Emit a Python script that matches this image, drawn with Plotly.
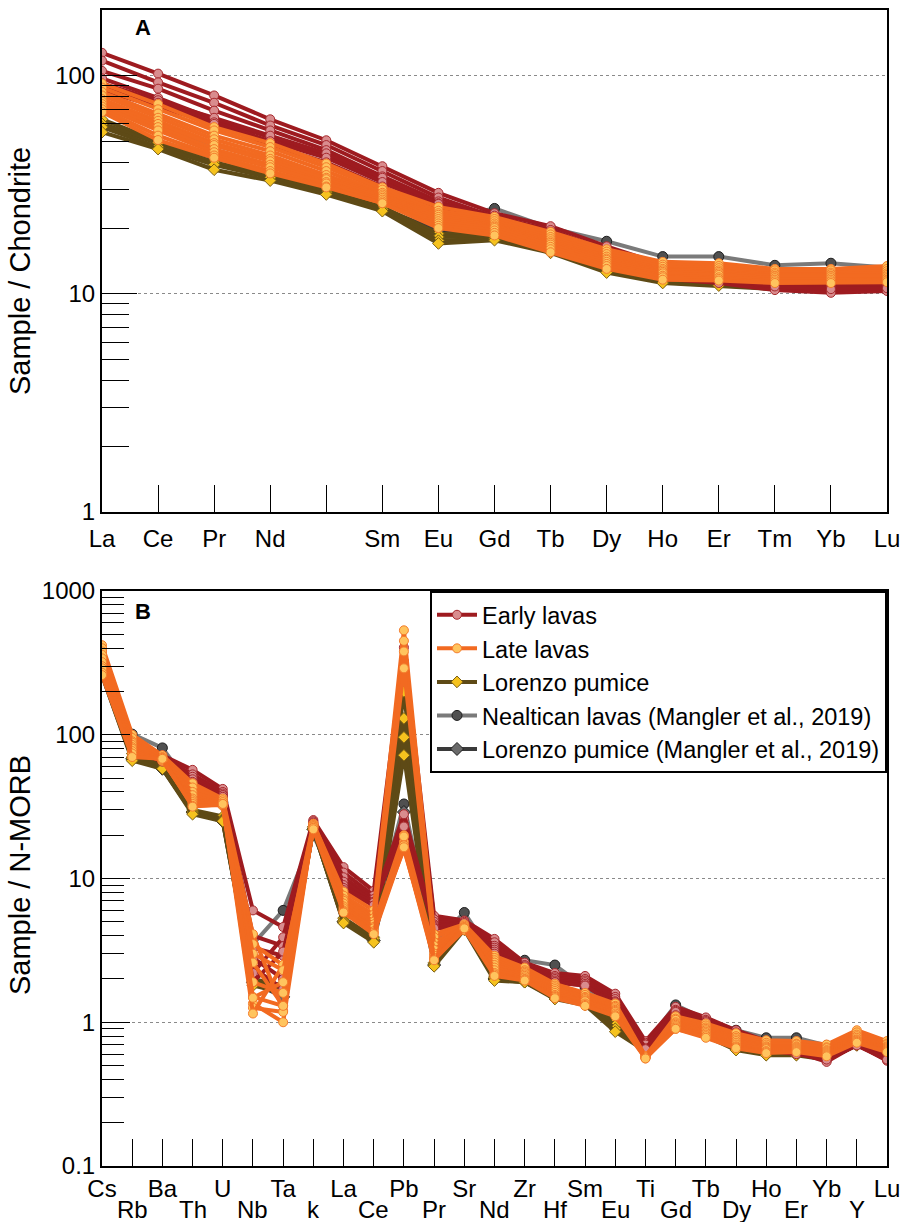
import plotly.graph_objects as go

# ---------------- DATA ----------------
REE_LABELS = ["La", "Ce", "Pr", "Nd", "", "Sm", "Eu", "Gd", "Tb", "Dy", "Ho", "Er", "Tm", "Yb", "Lu"]
SPIDER_LABELS = ["Cs", "Rb", "Ba", "Th", "U", "Nb", "Ta", "k", "La", "Ce", "Pb", "Pr", "Sr", "Nd",
                 "Zr", "Hf", "Sm", "Eu", "Ti", "Gd", "Tb", "Dy", "Ho", "Er", "Yb", "Y", "Lu"]

GROUP_NAMES = ["Early lavas", "Late lavas", "Lorenzo pumice",
               "Nealtican lavas (Mangler et al., 2019)", "Lorenzo pumice (Mangler et al., 2019)"]

# Panel A: Sample / Chondrite
EARLY_REE = [
    [127, 102, 81, 63, 50.5, 38.4, 29.0, 23.4, 20.4, 16.5, 13.6, 12.8, 11.8, 11.5, 11.6],
    [117, 93, 75, 59, 48.0, 36.5, 27.6, 22.5, 19.6, 15.8, 13.0, 12.3, 11.2, 11.0, 11.0],
    [105, 87, 69, 56, 45.5, 34.5, 26.5, 22.0, 18.8, 15.2, 12.5, 11.8, 10.9, 10.6, 10.6],
    [97, 79, 63, 52, 43.0, 33.0, 26.0, 21.5, 18.2, 14.6, 12.0, 11.4, 10.6, 10.3, 10.4],
    [92, 77, 64, 53, 44.0, 34.0, 25.8, 22.8, 19.2, 15.5, 12.8, 12.2, 11.4, 11.2, 11.3],
    [88, 75, 61, 50, 42.0, 32.5, 25.0, 21.0, 17.6, 14.2, 11.7, 11.2, 10.4, 10.1, 10.3],
    [85, 72, 60, 48, 40.0, 31.0, 24.0, 20.8, 17.8, 14.5, 12.2, 11.6, 10.8, 10.5, 10.6],
]
LATE_REE = [
    [92, 74, 58, 49, 39.5, 30.7, 25.0, 22.5, 19.2, 16.0, 14.0, 13.8, 13.0, 13.0, 13.4],
    [88, 70, 56, 47, 38.0, 30.0, 24.0, 22.0, 18.7, 15.6, 13.6, 13.4, 12.8, 12.8, 13.0],
    [84, 67, 53, 45, 36.5, 29.0, 23.4, 21.5, 18.2, 15.2, 13.3, 13.1, 12.5, 12.5, 12.7],
    [81, 64, 51, 43, 35.0, 28.5, 23.0, 21.0, 17.8, 14.8, 13.0, 12.8, 12.3, 12.3, 12.4],
    [78, 62, 49, 41.5, 34.0, 28.0, 22.5, 20.6, 17.4, 14.5, 12.8, 12.6, 12.1, 12.1, 12.2],
    [76, 60, 48, 40.5, 33.5, 27.5, 22.0, 20.3, 17.1, 14.3, 12.6, 12.4, 12.0, 12.0, 12.0],
    [74, 58, 46, 39, 32.5, 27.0, 21.5, 20.0, 16.8, 14.0, 12.4, 12.2, 11.8, 11.8, 11.8],
    [72, 56, 44.5, 38, 32.0, 26.5, 21.0, 19.5, 16.4, 13.7, 12.1, 11.9, 11.6, 11.6, 11.6],
    [70, 53, 43, 36.5, 31.0, 26.0, 20.5, 19.0, 16.0, 13.4, 11.9, 11.7, 11.4, 11.4, 11.5],
    [68, 50.6, 42, 35.6, 30.7, 26.0, 20.0, 18.5, 15.5, 13.0, 11.6, 11.5, 11.2, 11.2, 11.3],
]
PUMICE_REE = [
    [63, 50, 42, 36, 30.0, 25.0, 18.8, 18.8, 16.2, 13.2, 11.6, 11.3, 10.9, 10.9, 11.1],
    [60, 49, 40, 35, 29.5, 24.8, 18.2, 18.3, 15.9, 12.9, 11.4, 11.1, 10.7, 10.7, 10.9],
    [58, 47, 39, 34, 29.0, 24.3, 17.5, 17.9, 15.6, 12.7, 11.3, 11.0, 10.6, 10.5, 10.7],
    [55, 46, 37, 33, 28.5, 23.9, 17.0, 17.6, 15.4, 12.5, 11.2, 10.9, 10.5, 10.4, 10.6],
]
NEALTICAN_REE = [
    [71, 59, 48, 41, 34.5, 28.5, 21.5, 24.6, 20.0, 17.4, 14.8, 14.8, 13.5, 13.8, 13.2],
]
MANGLER_PUMICE_REE = [
    [60, 49, 40, 34.5, 29.0, 24.5, 19.5, 19.0, 16.0, 13.0, 11.5, 11.3, 10.9, 10.9, 11.0],
]

# Panel B: Sample / N-MORB
EARLY_SPIDER = [
    [380, 92, 72, 57, 42, 6.0, 4.6, 25.5, 12.0, 8.2, 405, 5.5, 5.1, 3.8, 2.6, 2.2, 2.1, 1.58, 0.74, 1.28, 1.08, 0.88, 0.74, 0.70, 0.62, 0.78, 0.62],
    [350, 88, 70, 53, 40, 4.0, 3.4, 25.0, 11.0, 7.6, 326, 5.2, 5.0, 3.6, 2.5, 2.1, 2.0, 1.50, 0.72, 1.22, 1.04, 0.85, 0.72, 0.68, 0.60, 0.76, 0.60],
    [320, 85, 68, 51, 39, 3.3, 2.9, 24.5, 10.2, 7.2, 26, 5.0, 4.8, 3.4, 2.45, 2.05, 1.95, 1.45, 0.70, 1.20, 1.02, 0.82, 0.70, 0.66, 0.58, 0.74, 0.58],
    [300, 82, 67, 49, 38, 2.8, 2.0, 24.0, 9.5, 6.9, 24, 4.8, 4.7, 3.3, 2.4, 2.0, 1.9, 1.40, 0.68, 1.15, 0.98, 0.80, 0.68, 0.64, 0.56, 0.72, 0.57],
    [280, 80, 66, 47, 37, 2.4, 1.7, 23.5, 9.0, 6.6, 22, 4.7, 4.6, 3.2, 2.35, 1.95, 1.85, 1.38, 0.70, 1.18, 1.00, 0.78, 0.66, 0.62, 0.54, 0.70, 0.55],
    [330, 84, 69, 46, 38, 2.2, 3.9, 24.0, 8.6, 6.8, 28, 4.6, 4.9, 3.1, 2.3, 1.9, 1.8, 1.35, 0.66, 1.12, 0.96, 0.76, 0.65, 0.62, 0.53, 0.70, 0.54],
    [300, 78, 65, 45, 37, 1.9, 3.1, 23.0, 8.3, 6.5, 23, 4.5, 4.5, 3.0, 2.3, 1.9, 1.8, 1.33, 0.65, 1.10, 0.95, 0.75, 0.64, 0.60, 0.55, 0.69, 0.55],
]
LATE_SPIDER = [
    [420, 100, 72, 46, 36, 4.1, 1.2, 24.0, 8.1, 6.0, 533, 4.1, 4.8, 2.9, 2.4, 1.85, 1.6, 1.35, 0.58, 1.10, 0.98, 0.84, 0.75, 0.74, 0.70, 0.88, 0.74],
    [400, 95, 70, 43, 35, 3.5, 2.5, 24.0, 7.6, 5.6, 450, 3.9, 4.7, 2.8, 2.3, 1.8, 1.55, 1.30, 0.57, 1.06, 0.95, 0.80, 0.72, 0.71, 0.67, 0.85, 0.71],
    [380, 90, 69, 40, 34, 1.5, 1.3, 23.5, 7.2, 5.3, 380, 3.6, 4.6, 2.7, 2.25, 1.75, 1.5, 1.28, 0.58, 1.04, 0.92, 0.78, 0.70, 0.70, 0.66, 0.82, 0.70],
    [360, 88, 69, 38, 33, 1.35, 1.0, 23.5, 7.0, 5.0, 290, 3.4, 4.6, 2.6, 2.2, 1.7, 1.48, 1.25, 0.57, 1.00, 0.90, 0.76, 0.68, 0.68, 0.64, 0.80, 0.68],
    [340, 85, 68, 36, 33, 1.26, 1.18, 23.0, 6.7, 4.8, 20, 3.2, 4.5, 2.5, 2.15, 1.65, 1.45, 1.22, 0.58, 0.98, 0.88, 0.74, 0.67, 0.67, 0.63, 0.78, 0.67],
    [320, 82, 67, 35, 32.5, 1.15, 2.5, 23.0, 6.4, 4.6, 16, 3.0, 4.5, 2.4, 2.1, 1.6, 1.42, 1.20, 0.57, 0.96, 0.86, 0.72, 0.66, 0.66, 0.62, 0.76, 0.66],
    [300, 80, 66, 34, 32, 3.0, 2.3, 23.0, 6.2, 4.5, 18, 2.9, 4.4, 2.3, 2.05, 1.55, 1.4, 1.18, 0.57, 0.94, 0.84, 0.70, 0.65, 0.65, 0.61, 0.75, 0.65],
    [290, 77, 66, 33, 33, 2.6, 1.3, 22.5, 6.0, 4.3, 19.6, 2.8, 4.5, 2.2, 2.0, 1.52, 1.35, 1.15, 0.56, 0.92, 0.82, 0.68, 0.63, 0.64, 0.60, 0.74, 0.64],
    [270, 74, 67, 32, 32.5, 1.9, 1.6, 22.5, 5.9, 4.2, 17, 2.75, 4.4, 2.15, 1.98, 1.5, 1.32, 1.12, 0.57, 0.90, 0.80, 0.67, 0.62, 0.63, 0.59, 0.73, 0.63],
    [260, 70, 68, 31.6, 33, 1.48, 1.9, 22.0, 5.8, 4.1, 16.5, 2.7, 4.5, 2.1, 1.95, 1.47, 1.3, 1.10, 0.56, 0.90, 0.78, 0.66, 0.61, 0.62, 0.58, 0.72, 0.62],
]
PUMICE_SPIDER = [
    [330, 74, 62, 30, 27, 2.0, 1.8, 23.0, 5.3, 3.9, 200, 2.6, 4.6, 2.1, 2.0, 1.55, 1.4, 1.00, 0.66, 1.00, 0.85, 0.68, 0.62, 0.62, 0.58, 0.72, 0.60],
    [300, 70, 60, 29, 26, 1.9, 1.7, 22.5, 5.1, 3.8, 130, 2.55, 4.5, 2.05, 1.95, 1.5, 1.38, 0.95, 0.65, 0.98, 0.83, 0.66, 0.61, 0.61, 0.57, 0.71, 0.59],
    [280, 68, 59, 28.5, 25.5, 1.85, 1.65, 22.0, 5.0, 3.65, 96, 2.5, 4.5, 2.0, 1.9, 1.48, 1.35, 0.90, 0.64, 0.96, 0.82, 0.65, 0.60, 0.60, 0.56, 0.70, 0.58],
    [260, 66, 58, 28, 25, 1.8, 1.6, 22.0, 4.9, 3.6, 72, 2.45, 4.4, 1.95, 1.9, 1.45, 1.32, 0.86, 0.63, 0.95, 0.80, 0.64, 0.59, 0.59, 0.55, 0.69, 0.57],
]
NEALTICAN_SPIDER = [
    [300, 101, 81, 42, 34, 3.5, 6.0, 20.0, 7.0, 5.3, 33, 3.6, 5.8, 2.8, 2.7, 2.5, 1.75, 1.30, 0.70, 1.32, 1.05, 0.88, 0.78, 0.78, 0.69, 0.80, 0.66],
]
MANGLER_PUMICE_SPIDER = [
    [260, 68, 58, 29, 25, 1.9, 1.5, 22.0, 5.0, 3.7, 29, 2.5, 4.6, 2.0, 1.95, 1.5, 1.35, 0.95, 0.66, 0.98, 0.82, 0.66, 0.60, 0.60, 0.57, 0.70, 0.58],
]

Y_TITLE_A = "Sample / Chondrite"
Y_TITLE_B = "Sample / N-MORB"

# ---------------- STYLES ----------------
STYLES = {
    "Early lavas": dict(line="#9E1B20", mfill="#D98C8E", mline="#A7282C", symbol="circle", msize=9),
    "Late lavas": dict(line="#F26A21", mfill="#FFC45E", mline="#F47C2C", symbol="circle", msize=9),
    "Lorenzo pumice": dict(line="#5E4A16", mfill="#F5C21E", mline="#7A5E14", symbol="diamond", msize=9),
    "Nealtican lavas (Mangler et al., 2019)": dict(line="#7A7A7A", mfill="#505050", mline="#1E1E1E", symbol="circle", msize=10),
    "Lorenzo pumice (Mangler et al., 2019)": dict(line="#3A3A3A", mfill="#6A6A6A", mline="#1E1E1E", symbol="diamond", msize=10),
}
LEGEND_RANK = {n: i + 1 for i, n in enumerate(GROUP_NAMES)}

FONT = "Liberation Sans, Arial, sans-serif"

fig = go.Figure()


def add_group(rows, name, xa, ya, show_legend):
    st = STYLES[name]
    for i, row in enumerate(rows):
        fig.add_trace(go.Scatter(
            x=list(range(len(row))), y=row, mode="lines+markers",
            xaxis=xa, yaxis=ya, name=name, legendgroup=name,
            legendrank=LEGEND_RANK[name],
            showlegend=show_legend and i == 0,
            line=dict(color=st["line"], width=4),
            marker=dict(symbol=st["symbol"], size=st["msize"], color=st["mfill"],
                        line=dict(color=st["mline"], width=1)),
        ))


# drawing order (back to front)
draw_order = [
    (NEALTICAN_REE, NEALTICAN_SPIDER, GROUP_NAMES[3]),
    (MANGLER_PUMICE_REE, MANGLER_PUMICE_SPIDER, GROUP_NAMES[4]),
    (PUMICE_REE, PUMICE_SPIDER, GROUP_NAMES[2]),
    (EARLY_REE, EARLY_SPIDER, GROUP_NAMES[0]),
    (LATE_REE, LATE_SPIDER, GROUP_NAMES[1]),
]
for ree, spider, name in draw_order:
    add_group(ree, name, "x", "y", False)
    add_group(spider, name, "x2", "y2", True)

TOP_DOMAIN = [0.5657, 1.0]
BOT_DOMAIN = [0.0, 0.4974]

minorA = [2, 3, 4, 5, 6, 7, 8, 9, 20, 30, 40, 50, 60, 70, 80, 90, 200]
minorB = [0.2, 0.3, 0.4, 0.5, 0.6, 0.7, 0.8, 0.9, 2, 3, 4, 5, 6, 7, 8, 9,
          20, 30, 40, 50, 60, 70, 80, 90, 200, 300, 400, 500, 600, 700, 800, 900]

common_x = dict(ticks="inside", ticklen=27, tickwidth=1, tickcolor="black",
                showline=True, linewidth=2, linecolor="black", mirror=True,
                showgrid=False, zeroline=False, automargin=False,
                ticklabeloverflow="allow",
                tickfont=dict(size=24, color="black"))
common_y = dict(type="log", ticks="inside", tickwidth=1.2, tickcolor="black",
                showline=True, linewidth=2, linecolor="black", mirror=True,
                showgrid=True, gridcolor="#8a8a8a", griddash="dot", gridwidth=1,
                zeroline=False, automargin=False, tickfont=dict(size=24, color="black"))

upper_text = [lab if i % 2 == 0 else "" for i, lab in enumerate(SPIDER_LABELS)]

fig.update_layout(
    width=903, height=1222,
    margin=dict(l=102, r=16, t=10, b=56),
    paper_bgcolor="white", plot_bgcolor="white",
    font=dict(family=FONT, size=24, color="black"),
    xaxis=dict(domain=[0, 1], anchor="y", range=[0, len(REE_LABELS) - 1],
               tickvals=list(range(len(REE_LABELS))), ticktext=REE_LABELS,
               ticklabelstandoff=4, **common_x),
    yaxis=dict(domain=TOP_DOMAIN, anchor="x", range=[0, 2.3],
               tickvals=[1, 10, 100], ticktext=["1", "10", "100"], ticklen=35,
               minor=dict(tickvals=minorA, ticks="inside", ticklen=27, tickcolor="black",
                          tickwidth=1, showgrid=False),
               **common_y),
    xaxis2=dict(domain=[0, 1], anchor="y2", range=[0, len(SPIDER_LABELS) - 1],
                tickvals=list(range(len(SPIDER_LABELS))), ticktext=upper_text,
                ticklabelstandoff=0, **common_x),
    yaxis2=dict(domain=BOT_DOMAIN, anchor="x2", range=[-1, 3],
                tickvals=[0.1, 1, 10, 100, 1000], ticktext=["0.1", "1", "10", "100", "1000"],
                ticklen=28,
                minor=dict(tickvals=minorB, ticks="inside", ticklen=22, tickcolor="black",
                           tickwidth=1, showgrid=False),
                **common_y),
    legend=dict(x=1, xanchor="right", y=BOT_DOMAIN[1], yanchor="top",
                bgcolor="white", bordercolor="black", borderwidth=2,
                font=dict(size=23.5, color="black"), tracegroupgap=0, itemwidth=40),
    showlegend=True,
)

annotations = []
for i, lab in enumerate(SPIDER_LABELS):
    if i % 2 == 1:
        annotations.append(dict(x=i, xref="x2", y=0, yref="y2 domain", text=lab,
                                showarrow=False, yanchor="middle", yshift=-43,
                                font=dict(size=24, color="black")))
# y-axis titles
annotations.append(dict(x=0, xref="paper", xshift=-82, y=0.48, yref="y domain",
                        text=Y_TITLE_A, textangle=-90, showarrow=False,
                        xanchor="center", yanchor="middle", font=dict(size=29, color="black")))
annotations.append(dict(x=0, xref="paper", xshift=-82, y=0.506, yref="y2 domain",
                        text=Y_TITLE_B, textangle=-90, showarrow=False,
                        xanchor="center", yanchor="middle", font=dict(size=29, color="black")))
# panel letters
annotations.append(dict(x=0.052, xref="x domain", y=0.966, yref="y domain", text="<b>A</b>",
                        showarrow=False, xanchor="center", yanchor="middle",
                        font=dict(size=22, color="black")))
annotations.append(dict(x=0.052, xref="x2 domain", y=0.965, yref="y2 domain", text="<b>B</b>",
                        showarrow=False, xanchor="center", yanchor="middle",
                        font=dict(size=22, color="black")))
fig.update_layout(annotations=annotations)

fig.write_html("out.html", config={"displayModeBar": False},
               post_script="document.body.style.margin='0px';")
